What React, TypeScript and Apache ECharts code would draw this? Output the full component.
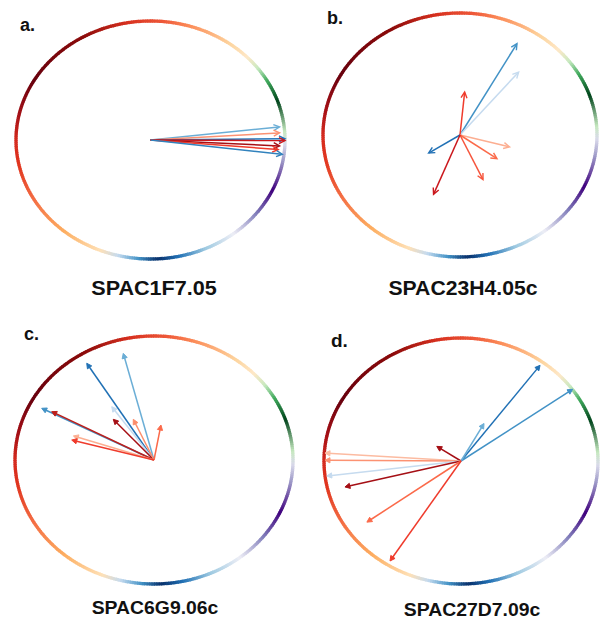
import React, { useEffect, useRef } from "react";
import * as echarts from "echarts";

const panelLetters = ["a.", "b.", "c.", "d."];
const geneNames = ["SPAC1F7.05", "SPAC23H4.05c", "SPAC6G9.06c", "SPAC27D7.09c"];

// arrow tips, in units of the circle radius (origin at the centre)
const aTipX = [0.96, 0.96, 1.0, 1.0, 0.96, 0.95, 0.98];
const aTipY = [0.11, 0.06, 0.01, -0.005, -0.05, -0.08, -0.12];
const aColors = ["#6baed6", "#fc9272", "#2171b5", "#cb181d", "#a50f15", "#ef3b2c", "#3182bd"];

const bTipX = [0.416, 0.428, 0.034, -0.229, 0.362, 0.27, 0.168, -0.193];
const bTipY = [0.749, 0.516, 0.352, -0.148, -0.098, -0.194, -0.366, -0.486];
const bColors = ["#4292c6", "#c6dbef", "#ef3b2c", "#2171b5", "#fcae91", "#fb6a4a", "#f6553c", "#cb181d"];

const cTipX = [-0.221, -0.484, -0.808, -0.736, -0.304, -0.293, -0.149, 0.05, -0.58, -0.592];
const cTipY = [0.86, 0.78, 0.417, 0.39, 0.43, 0.328, 0.328, 0.282, 0.194, 0.161];
const cColors = ["#6baed6", "#2171b5", "#4292c6", "#bd1f1b", "#c6dbef", "#a50f15", "#fc8d6a", "#fb6a4a", "#fcae91", "#ef3b2c"];

const dTipX = [0.577, 0.815, 0.168, -0.177, -0.993, -0.993, -0.98, -0.847, -0.687, -0.518];
const dTipY = [0.778, 0.583, 0.305, 0.119, 0.065, 0.006, -0.122, -0.211, -0.497, -0.813];
const dColors = ["#2171b5", "#4292c6", "#6baed6", "#a50f15", "#fcbba1", "#fc9272", "#c6dbef", "#a50f15", "#fb6a4a", "#ef3b2c"];

// colour ring stops: [angle in degrees (counter-clockwise from east), colour]
const ringAngles = [-180, -168, -150, -130, -112, -104, -95, -87, -78, -66, -52, -38, -25, -10, -2, 4, 19, 30, 37, 44, 54, 73, 84, 100, 120, 150, 168, 180];
const ringColors = ["#d42a1e", "#e0351f", "#f46d43", "#fdae61", "#fee0b6", "#c6dbef", "#4292c6", "#08306b", "#2171b5", "#9ecae1", "#eeeef6", "#807dba", "#3f007d", "#9e9ac8", "#dadaeb", "#c7e9c0", "#00441b", "#41ab5d", "#c7e9c0", "#fee8c8", "#fdd49e", "#fc8d59", "#ef5a3a", "#d7301f", "#8b0a0a", "#67000d", "#a50f15", "#d42a1e"];

const panels = [
  { x: aTipX, y: aTipY, c: aColors, filled: false },
  { x: bTipX, y: bTipY, c: bColors, filled: false },
  { x: cTipX, y: cTipY, c: cColors, filled: true },
  { x: dTipX, y: dTipY, c: dColors, filled: true },
];

const grids = [
  { left: 16, top: 21, width: 269, height: 238 },
  { left: 323, top: 13, width: 274, height: 244 },
  { left: 15, top: 336, width: 278, height: 248 },
  { left: 324, top: 338, width: 274, height: 246 },
];
const letterPos = [
  [20, 25, 18],
  [327, 18, 18],
  [24, 334, 18],
  [331, 340, 19],
];
const namePos = [
  [154, 288, 20, 1.08],
  [463, 288, 20, 1.06],
  [155, 608, 19, 1.02],
  [472, 610, 19, 1.02],
];

function hexToRgb(h: string) {
  const n = parseInt(h.slice(1), 16);
  return [(n >> 16) & 255, (n >> 8) & 255, n & 255];
}
function ringColorAt(deg: number) {
  let d = deg;
  while (d > 180) d -= 360;
  while (d < -180) d += 360;
  for (let i = 0; i < ringAngles.length - 1; i++) {
    if (d >= ringAngles[i] && d <= ringAngles[i + 1]) {
      const t = (d - ringAngles[i]) / (ringAngles[i + 1] - ringAngles[i]);
      const a = hexToRgb(ringColors[i]);
      const b = hexToRgb(ringColors[i + 1]);
      const m = a.map((v, k) => Math.round(v + (b[k] - v) * t));
      return `rgb(${m[0]},${m[1]},${m[2]})`;
    }
  }
  return ringColors[0];
}

export default function App() {
  const ref = useRef<HTMLDivElement>(null);
  useEffect(() => {
    document.body.style.margin = "0";
    const chart = echarts.init(ref.current!, null, { renderer: "svg" });
    const series: any[] = [];
    panels.forEach((p, gi) => {
      series.push({
        type: "custom",
        xAxisIndex: gi,
        yAxisIndex: gi,
        silent: true,
        data: [[0, 0]],
        renderItem: (params: any, api: any) => {
          const N = 360;
          const children: any[] = [];
          for (let i = 0; i < N; i++) {
            const a0 = (i / N) * Math.PI * 2;
            const a1 = ((i + 1.3) / N) * Math.PI * 2;
            const p0 = api.coord([Math.cos(a0), Math.sin(a0)]);
            const p1 = api.coord([Math.cos(a1), Math.sin(a1)]);
            children.push({
              type: "line",
              shape: { x1: p0[0], y1: p0[1], x2: p1[0], y2: p1[1] },
              style: { stroke: ringColorAt(((i + 0.5) / N) * 360), lineWidth: 3.3, lineCap: "butt" },
            });
          }
          return { type: "group", children };
        },
      });
      series.push({
        type: "custom",
        xAxisIndex: gi,
        yAxisIndex: gi,
        silent: true,
        data: p.x.map((x, i) => [x, p.y[i], i]),
        renderItem: (params: any, api: any) => {
          const o = api.coord([0, 0]);
          const t = api.coord([api.value(0), api.value(1)]);
          const col = p.c[api.value(2)];
          const dx = t[0] - o[0];
          const dy = t[1] - o[1];
          const len = Math.sqrt(dx * dx + dy * dy) || 1;
          const ux = dx / len;
          const uy = dy / len;
          const hl = p.filled ? 5 : 6;
          const hw = p.filled ? 2.6 : 3;
          const bx = t[0] - ux * hl;
          const by = t[1] - uy * hl;
          const l1 = [bx - uy * hw, by + ux * hw];
          const l2 = [bx + uy * hw, by - ux * hw];
          const head = p.filled
            ? { type: "polygon", shape: { points: [t, l1, l2] }, style: { fill: col, stroke: col, lineWidth: 1 } }
            : { type: "polyline", shape: { points: [l1, t, l2] }, style: { fill: null, stroke: col, lineWidth: 1.4 } };
          return {
            type: "group",
            children: [
              {
                type: "line",
                shape: { x1: o[0], y1: o[1], x2: t[0] - ux * (p.filled ? 3 : 0.5), y2: t[1] - uy * (p.filled ? 3 : 0.5) },
                style: { stroke: col, lineWidth: 1.5 },
              },
              head,
            ],
          };
        },
      });
    });

    const graphic: any[] = [];
    panelLetters.forEach((l, i) => {
      graphic.push({
        type: "text",
        x: letterPos[i][0],
        y: letterPos[i][1],
        style: {
          text: l,
          font: `bold ${letterPos[i][2]}px "Liberation Sans", Arial, sans-serif`,
          fill: "#111",
          align: "left",
          verticalAlign: "middle",
        },
      });
    });
    geneNames.forEach((n, i) => {
      graphic.push({
        type: "text",
        x: namePos[i][0],
        y: namePos[i][1],
        scaleX: namePos[i][3],
        style: {
          text: n,
          font: `bold ${namePos[i][2]}px "Liberation Sans", Arial, sans-serif`,
          fill: "#111",
          align: "center",
          verticalAlign: "middle",
        },
      });
    });

    chart.setOption({
      animation: false,
      backgroundColor: "#ffffff",
      grid: grids.map((g) => ({ ...g, containLabel: false })),
      xAxis: grids.map((_, i) => ({ type: "value", gridIndex: i, min: -1, max: 1, show: false })),
      yAxis: grids.map((_, i) => ({ type: "value", gridIndex: i, min: -1, max: 1, show: false })),
      series,
      graphic,
    });
    return () => chart.dispose();
  }, []);
  return <div ref={ref} style={{ width: 601, height: 619 }} />;
}
